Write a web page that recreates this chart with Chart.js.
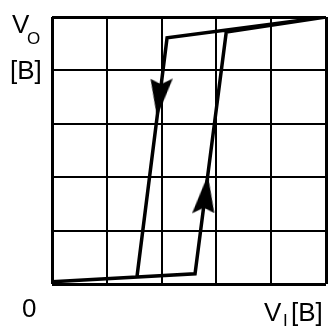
<!DOCTYPE html>
<html>
<head>
<meta charset="utf-8">
<script src="https://cdn.jsdelivr.net/npm/chart.js@4"></script>
<style>
  html, body { margin: 0; padding: 0; background: #fff; overflow: hidden; }
</style>
</head>
<body>
<canvas id="hyst" width="328" height="327"></canvas>
<script>
// transfer curve (grid units, 0..5 on both axes)
const curveX = [0, 2.61, 3.18, 5, 2.10, 1.55];
const curveY = [0.04, 0.19, 4.72, 5, 4.61, 0.13];

// arrow positions on the branches and their direction (deg)
const arrowX = [1.96, 2.80];
const arrowY = [3.50, 1.67];
const arrowRot = [187, 7];

const ticksVals = [0, 1, 2, 3, 4, 5];

function makeArrow() {
  const c = document.createElement("canvas");
  c.width = 22; c.height = 40;
  const g = c.getContext("2d");
  g.fillStyle = "#000";
  g.beginPath();
  g.moveTo(11, 0);
  g.lineTo(22, 37);
  g.lineTo(11, 33);
  g.lineTo(0, 40);
  g.closePath();
  g.fill();
  return c;
}
const arrowImg = makeArrow();

const labels = {
  id: "labels",
  afterDraw(chart) {
    const ctx = chart.ctx;
    ctx.save();
    ctx.fillStyle = "#000";
    ctx.textBaseline = "alphabetic";
    ctx.font = "26px 'Liberation Sans', Arial, sans-serif";
    ctx.fillText("V", 12, 33);
    ctx.fillText("[В]", 10, 79);
    ctx.fillText("0", 22, 317);
    ctx.fillText("V", 264, 321);
    ctx.fillText("[В]", 291, 321);
    ctx.font = "17px 'Liberation Sans', Arial, sans-serif";
    ctx.fillText("O", 27, 44);
    ctx.fillText("I", 283, 326);
    ctx.restore();
  }
};

const gridW = c => (c.tick && (c.tick.value === 0 || c.tick.value === 5)) ? 3 : 2;

new Chart(document.getElementById("hyst"), {
  type: "scatter",
  data: {
    datasets: [
      {
        data: curveX.map((x, i) => ({ x, y: curveY[i] })),
        showLine: true,
        borderColor: "#000",
        borderWidth: 3.5,
        pointRadius: 0,
        tension: 0
      },
      {
        data: arrowX.map((x, i) => ({ x, y: arrowY[i] })),
        pointStyle: arrowImg,
        rotation: arrowRot,
        pointRadius: 10
      }
    ]
  },
  options: {
    responsive: false,
    animation: false,
    layout: { autoPadding: false, padding: { left: 52, top: 17, right: 2, bottom: 43 } },
    plugins: { legend: { display: false }, tooltip: { enabled: false } },
    scales: {
      x: {
        type: "linear", min: 0, max: 5,
        afterBuildTicks: s => { s.ticks = ticksVals.map(v => ({ value: v })); },
        ticks: { display: false },
        grid: { color: "#000", lineWidth: gridW, drawTicks: false },
        border: { display: false }
      },
      y: {
        type: "linear", min: 0, max: 5,
        afterBuildTicks: s => { s.ticks = ticksVals.map(v => ({ value: v })); },
        ticks: { display: false },
        grid: { color: "#000", lineWidth: gridW, drawTicks: false },
        border: { display: false }
      }
    }
  },
  plugins: [labels]
});
</script>
</body>
</html>
